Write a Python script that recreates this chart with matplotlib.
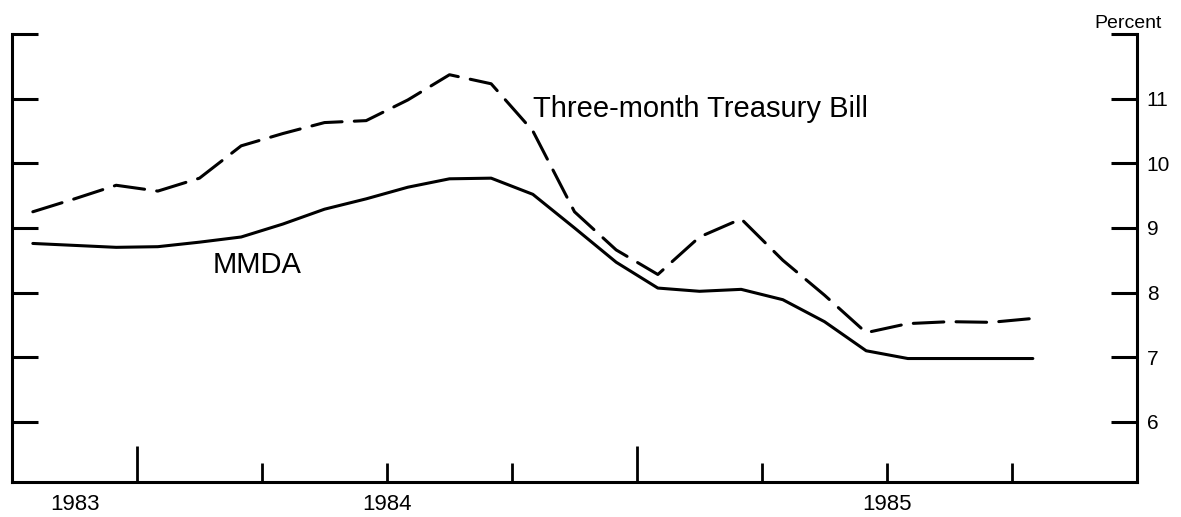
"""
MMDA rate vs three-month Treasury bill rate, monthly, Oct 1983 - Oct 1985.
"""

import numpy as np
import matplotlib

matplotlib.use("Agg")
import matplotlib.pyplot as plt

# Monthly averages, Oct 1983 .. Oct 1985 (percent)
tbill = [9.25, 9.45, 9.66, 9.57, 9.77, 10.27, 10.46, 10.63, 10.66, 10.98,
         11.37, 11.23, 10.50, 9.25, 8.66, 8.28, 8.86, 9.14, 8.50, 7.96,
         7.38, 7.52, 7.55, 7.54, 7.60]
mmda = [8.76, 8.73, 8.70, 8.71, 8.78, 8.86, 9.06, 9.29, 9.45, 9.63,
        9.76, 9.77, 9.52, 9.00, 8.47, 8.07, 8.02, 8.05, 7.89, 7.55,
        7.10, 6.98, 6.98, 6.98, 6.98]

# x axis counted in months from 1 Oct 1983; points sit mid-month
months = np.arange(len(mmda)) + 0.5
year_ticks = [3, 15]                      # Jan 1984, Jan 1985
quarter_ticks = [6, 9, 12, 18, 21, 24]
year_label_pos = [1.5, 9, 21]
year_labels = ["1983", "1984", "1985"]
y_ticks = [6, 7, 8, 9, 10, 11, 12]
y_labels = ["6", "7", "8", "9", "10", "11", ""]

plt.rcParams["font.family"] = ["Liberation Sans", "DejaVu Sans"]

W, H = 1181, 517
fig = plt.figure(figsize=(W / 100, H / 100), dpi=100)
left, right, bottom, top = 12, 1137, 482, 34
ax = fig.add_axes([left / W, 1 - bottom / H, (right - left) / W, (bottom - top) / H])

lw = 2.2
ax.plot(months, tbill, color="black", lw=lw, linestyle=(0, (10, 4)),
        solid_capstyle="round", dash_capstyle="round")
ax.plot(months, mmda, color="black", lw=lw, solid_capstyle="round")

ax.set_xlim(0, 27)
ax.set_ylim(5.07, 12)

for side in ["left", "right", "bottom"]:
    ax.spines[side].set_linewidth(2.2)
ax.spines["top"].set_visible(False)

# y axis: ticks both sides pointing in, labels on right
ax.set_yticks(y_ticks)
ax.set_yticklabels(y_labels)
ax.tick_params(axis="y", which="major", direction="in", length=19, width=2.2,
               left=True, right=True, labelleft=False, labelright=True,
               labelsize=15, pad=7)

# x axis: tall ticks at year starts, short at quarters
ax.set_xticks(year_ticks)
ax.set_xticklabels([])
ax.set_xticks(quarter_ticks, minor=True)
ax.tick_params(axis="x", which="major", direction="in", length=26, width=2)
ax.tick_params(axis="x", which="minor", direction="in", length=13.5, width=2)

sec = ax.secondary_xaxis("bottom")
sec.set_xticks(year_label_pos)
sec.set_xticklabels(year_labels)
sec.tick_params(length=0, labelsize=16, pad=9)
sec.spines["bottom"].set_visible(False)

ax.text(0.992, 1.004, "Percent", transform=ax.transAxes, ha="center", va="bottom",
        fontsize=14)

ax.text(12.5, 10.84, "Three-month Treasury Bill", fontsize=21, va="center")
ax.text(4.82, 8.42, "MMDA", fontsize=21, va="center")

fig.savefig("out.png", dpi=100)
